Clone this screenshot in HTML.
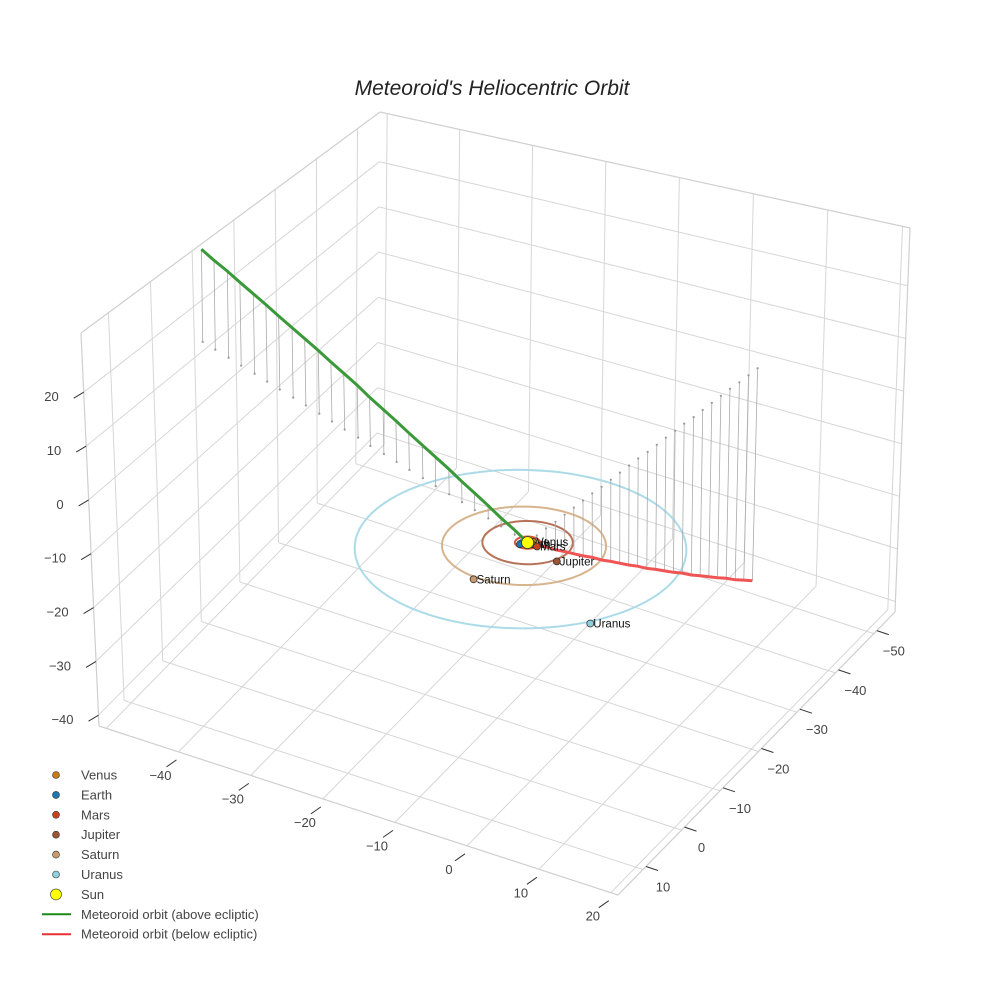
<!DOCTYPE html>
<html><head><meta charset="utf-8"><style>
html,body{margin:0;padding:0;background:#fff;}
svg{display:block;font-family:"Liberation Sans",sans-serif;}
</style></head><body>
<svg id="chart" width="984" height="984" viewBox="0 0 984 984" xmlns="http://www.w3.org/2000/svg">
<rect width="984" height="984" fill="#fff"/>
<text x="492" y="95" text-anchor="middle" font-size="21" font-style="italic" fill="#222">Meteoroid's Heliocentric Orbit</text>
<g id="grid"></g><g id="orbits"></g><g id="stems"></g><g id="traj"></g><g id="planets"></g><g id="axes"></g>
<g id="legend"></g>
</svg>
<script>
// ---- data ----
const xTicks = [-40,-30,-20,-10,0,10,20];
const yTicks = [-50,-40,-30,-20,-10,0,10];
const zTicks = [-40,-30,-20,-10,0,10,20];
const planetNames = ["Venus","Earth","Mars","Jupiter","Saturn","Uranus"];
const planetX = [0.5,-0.6,1.45,5.3,-1.2,16.2];
const planetY = [-0.5,0.8,0.3,2.4,11.2,14.0];
const orbitRadius = [0.72,1.0,1.52,5.4,9.8,19.8];
const orbitCx = [0,0,0,0,0,0];
const orbitCy = [0,0,0,0,0.9,1.8];
const aboveX = [0,-2.3,-4.7,-7.0,-9.4,-11.7,-14.0,-16.4,-18.7,-21.1,-23.4,-25.7,-28.1,-30.4,-32.8,-35.1,-37.4,-39.8,-42.1,-44.5,-46.8,-49.1,-51.5,-53.8,-56.2,-58.5];
const aboveY = [0,-1.0,-2.0,-3.0,-4.0,-5.0,-6.0,-7.0,-8.0,-9.0,-10.0,-11.0,-12.0,-13.1,-14.1,-15.1,-16.1,-17.1,-18.1,-19.1,-20.1,-21.1,-22.1,-23.1,-24.1,-25.1];
const aboveZ = [0,0.8,1.5,2.3,3.1,3.8,4.6,5.4,6.1,6.9,7.7,8.4,9.2,10.0,10.8,11.5,12.3,13.1,13.8,14.6,15.4,16.1,16.9,17.7,18.4,19.2];
const belowX = [0,0.1,0.2,0.4,0.5,0.6,0.7,0.8,1.0,1.1,1.2,1.3,1.4,1.6,1.7,1.8,1.9,2.0,2.2,2.3,2.4,2.5,2.6,2.8,2.9,3.0];
const belowY = [0,-2.1,-4.2,-6.2,-8.3,-10.4,-12.5,-14.6,-16.6,-18.7,-20.8,-22.9,-25.0,-27.0,-29.1,-31.2,-33.3,-35.4,-37.4,-39.5,-41.6,-43.7,-45.8,-47.8,-49.9,-52.0];
const belowZ = [0,-1.7,-3.3,-5.0,-6.6,-8.3,-10.0,-11.6,-13.3,-14.9,-16.6,-18.3,-19.9,-21.6,-23.2,-24.9,-26.6,-28.2,-29.9,-31.5,-33.2,-34.9,-36.5,-38.2,-39.8,-41.5];

const planetColor = ["#c8791a","#1f77b4","#c8421a","#9c5533","#c99a6e","#8ecfe0"];
const orbitColor = ["#e8953a","#3b8fc9","#d85a3a","#b87258","#d8b48e","#acdbe8"];
const XR=[-51,21], YR=[-55.5,16.5], ZR=[-42,31];

function homog(p0,p1,p2,p3){
  const sx=p0[0]-p1[0]+p2[0]-p3[0], sy=p0[1]-p1[1]+p2[1]-p3[1];
  const dx1=p1[0]-p2[0],dx2=p3[0]-p2[0],dy1=p1[1]-p2[1],dy2=p3[1]-p2[1];
  const det=dx1*dy2-dx2*dy1;
  const g=(sx*dy2-dx2*sy)/det,h=(dx1*sy-sx*dy1)/det;
  const a=p1[0]-p0[0]+g*p1[0],b=p3[0]-p0[0]+h*p3[0],c=p0[0];
  const d=p1[1]-p0[1]+g*p1[1],e=p3[1]-p0[1]+h*p3[1],f=p0[1];
  return (u,v)=>{const w=g*u+h*v+1;return [(a*u+b*v+c)/w,(d*u+e*v+f)/w];};
}
const floorH=homog([377,442],[895,612],[618,895],[99,726]);
const topH=homog([380,112],[910,228],[614,455],[81,333]);
function P(x,y,z){
  const u=(x-XR[0])/(XR[1]-XR[0]), v=(y-YR[0])/(YR[1]-YR[0]), t=(z-ZR[0])/(ZR[1]-ZR[0]);
  const a=floorH(u,v), b=topH(u,v);
  return [a[0]+t*(b[0]-a[0]), a[1]+t*(b[1]-a[1])];
}
const NS="http://www.w3.org/2000/svg";
function mk(tag,parent,attrs){const e=document.createElementNS(NS,tag);for(const k in attrs)e.setAttribute(k,attrs[k]);parent.appendChild(e);return e;}
function line(parent,p,q,col,w){return mk('line',parent,{x1:p[0].toFixed(1),y1:p[1].toFixed(1),x2:q[0].toFixed(1),y2:q[1].toFixed(1),stroke:col,'stroke-width':w});}
const G=id=>document.getElementById(id);
const grid=G('grid'),axes=G('axes');
const gc="#d6d6d6";
// floor grid
xTicks.concat([-50]).forEach(x=>{const l=line(grid,P(x,YR[0],ZR[0]),P(x,YR[1],ZR[0]),gc,1);

});
yTicks.forEach(y=>{const l=line(grid,P(XR[0],y,ZR[0]),P(XR[1],y,ZR[0]),gc,1);

});
// left wall (x=min)
yTicks.forEach(y=>{const l=line(grid,P(XR[0],y,ZR[0]),P(XR[0],y,ZR[1]),gc,1);

});
zTicks.forEach(z=>{const l=line(grid,P(XR[0],YR[0],z),P(XR[0],YR[1],z),gc,1);

});
// right wall (y=min)
xTicks.concat([-50]).forEach(x=>{const l=line(grid,P(x,YR[0],ZR[0]),P(x,YR[0],ZR[1]),gc,1);

});
zTicks.forEach(z=>{const l=line(grid,P(XR[0],YR[0],z),P(XR[1],YR[0],z),gc,1);

});
// box edges
[[[XR[0],YR[1],ZR[0]],[XR[0],YR[1],ZR[1]]],[[XR[1],YR[0],ZR[0]],[XR[1],YR[0],ZR[1]]],
 [[XR[0],YR[1],ZR[1]],[XR[0],YR[0],ZR[1]]],[[XR[0],YR[0],ZR[1]],[XR[1],YR[0],ZR[1]]],
 [[XR[0],YR[1],ZR[0]],[XR[1],YR[1],ZR[0]]],[[XR[1],YR[1],ZR[0]],[XR[1],YR[0],ZR[0]]]].forEach(e=>{
 const l=line(grid,P(...e[0]),P(...e[1]),"#cfcfcf",1.2);
 
 });
// ticks & labels
function tickText(p,s,anchor){const t=mk('text',axes,{x:p[0].toFixed(1),y:p[1].toFixed(1),'font-size':13,fill:'#444','text-anchor':anchor});t.textContent=s;return t;}
const minus=v=>v<0?'\u2212'+Math.abs(v):String(v);
zTicks.forEach(z=>{const p=P(XR[0],YR[1],z);const l=line(axes,p,[p[0]-10,p[1]+6],'#333',1);


const t=tickText([p[0]-25,p[1]+9],minus(z),'end');

});
xTicks.forEach(x=>{const p=P(x,YR[1],ZR[0]);const l=line(axes,[p[0]-2,p[1]+8],[p[0]-12,p[1]+15],'#333',1);


const t=tickText([p[0]-18,p[1]+28],minus(x),'middle');

});
yTicks.forEach(y=>{const p=P(XR[1],y,ZR[0]);const l=line(axes,[p[0]+3,p[1]-3],[p[0]+15,p[1]+1],'#333',1);


const t=tickText([p[0]+20,p[1]+22],minus(y),'middle');

});
// orbits
const orb=G('orbits');
orbitRadius.forEach((r,i)=>{let d='';for(let k=0;k<=120;k++){const a=k/120*2*Math.PI;const p=P(orbitCx[i]+r*Math.cos(a),orbitCy[i]+r*Math.sin(a),0);d+=(k?'L':'M')+p[0].toFixed(1)+','+p[1].toFixed(1);}
const e=mk('path',orb,{d:d,fill:'none',stroke:orbitColor[i],'stroke-width':2});

});
// stems
const st=G('stems');
function stems(X,Y,Z){X.forEach((x,i)=>{if(i===0)return;const a=P(x,Y[i],Z[i]),b=P(x,Y[i],0);
const l=line(st,a,b,'#aaa',0.8);


const c=mk('circle',st,{cx:b[0].toFixed(1),cy:b[1].toFixed(1),r:1.1,fill:'#999'});

});}
stems(aboveX,aboveY,aboveZ);stems(belowX,belowY,belowZ);
// trajectories
const tr=G('traj');
function path(X,Y,Z){return X.map((x,i)=>{const p=P(x,Y[i],Z[i]);return (i?'L':'M')+p[0].toFixed(1)+','+p[1].toFixed(1);}).join('');}
const gp=mk('path',tr,{d:path(aboveX,aboveY,aboveZ),fill:'none',stroke:'#3a9a3a','stroke-width':3});


const rp=mk('path',tr,{d:path(belowX,belowY,belowZ),fill:'none',stroke:'#ef5555','stroke-width':3});


// planets
const pl=G('planets');
planetNames.forEach((n,i)=>{const p=P(planetX[i],planetY[i],0);
const c=mk('circle',pl,{cx:p[0].toFixed(1),cy:p[1].toFixed(1),r:3.5,fill:planetColor[i],stroke:'#333','stroke-width':0.8});


const t=mk('text',pl,{x:(p[0]+3).toFixed(1),y:(p[1]+4).toFixed(1),'font-size':11.5,fill:'#111'});t.textContent=n;

});
const sp=P(0,0,0);
const sun=mk('circle',pl,{cx:sp[0].toFixed(1),cy:sp[1].toFixed(1),r:6,fill:'#ffff00',stroke:'#333','stroke-width':0.8});


// legend
const lg=G('legend');
const legItems=[...planetNames.map((n,i)=>({n:n,c:planetColor[i],t:'m'})),{n:'Sun',c:'#ffff00',t:'s'},{n:'Meteoroid orbit (above ecliptic)',c:'#1a8a1a',t:'l'},{n:'Meteoroid orbit (below ecliptic)',c:'#e83030',t:'l'}];
legItems.forEach((it,i)=>{const y=775+i*19.9;
const g=mk('g',lg,{});


if(it.t==='l')mk('line',g,{x1:42,y1:y,x2:71,y2:y,stroke:it.c,'stroke-width':2});
else mk('circle',g,{cx:56,cy:y,r:it.t==='s'?5.5:3.5,fill:it.c,stroke:'#333','stroke-width':0.6});
const t=mk('text',g,{x:81,y:y+4.5,'font-size':13,fill:'#444'});t.textContent=it.n;});
</script>
</body></html>
